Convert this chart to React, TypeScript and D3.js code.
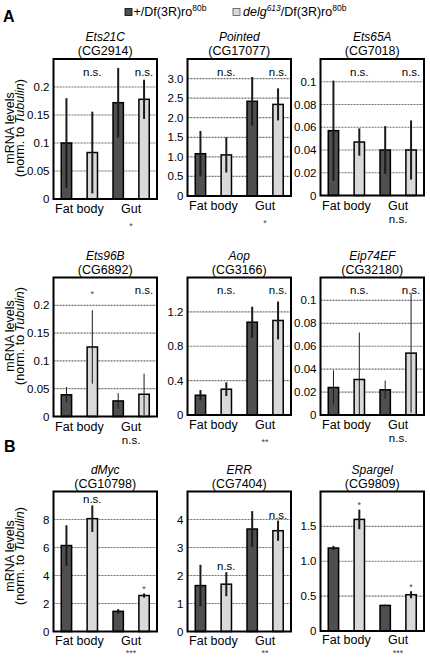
import React from 'react';
import * as d3 from 'd3';

const genes = ['Ets21C', 'Pointed', 'Ets65A', 'Ets96B', 'Aop', 'Eip74EF', 'dMyc', 'ERR', 'Spargel'];
const cgIds = ['CG2914', 'CG17077', 'CG7018', 'CG6892', 'CG3166', 'CG32180', 'CG10798', 'CG7404', 'CG9809'];
const groups = ['Fat body', 'Gut'];
const barKeys = ['fb-ctrl', 'fb-delg', 'gut-ctrl', 'gut-delg'];

const means = [
  [0.100, 0.083, 0.172, 0.178],
  [1.08, 1.05, 2.42, 2.34],
  [0.057, 0.047, 0.040, 0.040],
  [0.039, 0.125, 0.028, 0.040],
  [0.23, 0.30, 1.08, 1.10],
  [0.024, 0.031, 0.022, 0.054],
  [6.14, 8.06, 1.44, 2.57],
  [1.64, 1.69, 3.66, 3.60],
  [1.19, 1.60, 0.367, 0.52],
];
const errs = [
  [0.080, 0.073, 0.062, 0.035],
  [0.58, 0.45, 0.62, 0.41],
  [0.044, 0.012, 0.021, 0.026],
  [0.014, 0.066, 0.014, 0.037],
  [0.06, 0.08, 0.18, 0.22],
  [0.015, 0.041, 0.008, 0.052],
  [1.45, 0.95, 0.16, 0.15],
  [0.74, 0.43, 0.64, 0.36],
  [0.03, 0.14, 0.01, 0.05],
];
const yMax = [0.25, 3.5, 0.12, 0.25, 1.6, 0.12, 10, 5, 2];
const tickValues = [
  [0, 0.05, 0.1, 0.15, 0.2],
  [0, 0.5, 1, 1.5, 2, 2.5, 3],
  [0, 0.02, 0.04, 0.06, 0.08, 0.1],
  [0, 0.05, 0.1, 0.15, 0.2],
  [0, 0.4, 0.8, 1.2],
  [0, 0.02, 0.04, 0.06, 0.08, 0.1],
  [0, 2, 4, 6, 8],
  [0, 1, 2, 3, 4],
  [0, 0.5, 1, 1.5],
];
const tickLabels = [
  ['0', '0.05', '0.1', '0.15', '0.2'],
  ['0', '0.5', '1.0', '1.5', '2.0', '2.5', '3.0'],
  ['0', '0.02', '0.04', '0.06', '0.08', '0.1'],
  ['0', '0.05', '0.1', '0.15', '0.2'],
  ['0', '0.4', '0.8', '1.2'],
  ['0', '0.02', '0.04', '0.06', '0.08', '0.1'],
  ['0', '2', '4', '6', '8'],
  ['0', '1', '2', '3', '4'],
  ['0', '0.5', '1.0', '1.5'],
];
// significance above the mutant bar of each tissue [fat body, gut]
const sigTop = [
  ['n.s.', 'n.s.'], ['n.s.', 'n.s.'], ['n.s.', 'n.s.'],
  ['*', 'n.s.'], ['n.s.', 'n.s.'], ['n.s.', 'n.s.'],
  ['n.s.', '*'], ['n.s.', 'n.s.'], ['*', '*'],
];
// significance below the Gut label
const sigGut = ['*', '*', 'n.s.', 'n.s.', '**', 'n.s.', '***', '**', '***'];

// ---- layout ----
const COL_X = [53.5, 187.5, 320.5];
const PW = 103.5;
const ROW_TOP = [59, 277.5, 491.5];
const BOTTOMS = [199, 196, 195.5, 416.5, 415, 415, 631.5, 631.5, 631];
const YLABEL_CY = [128, 336, 556];
const LABEL_DY = [14, 14, 13];
const SIG_DY = [27, 27, 22];
const THIN_ERR = [3, 5];
const FILLS = ['#4f4f4f', '#d9d9d9'];
const FONT = "'Liberation Sans Narrow', 'Arial Narrow', 'Liberation Sans', Arial, sans-serif";
const FONT_W = "'Liberation Sans', Arial, sans-serif";

function Panel({ i }: { i: number }) {
  const row = Math.floor(i / 3);
  const col = i % 3;
  const left = COL_X[col];
  const top = ROW_TOP[row];
  const bottom = BOTTOMS[i];
  const y = d3.scaleLinear().domain([0, yMax[i]]).range([bottom, top]);
  const x = d3.scaleBand().domain(barKeys).range([left, left + PW]).paddingInner(0.6).paddingOuter(0.3);
  const bw = x.bandwidth();
  const cx = (k: number) => (x(barKeys[k]) as number) + bw / 2;
  const midX = left + PW / 2;
  const errW = THIN_ERR.includes(i) ? 1 : 2;
  const gutStar = sigGut[i].startsWith('*');

  return (
    <g>
      {/* title */}
      <text x={midX} y={top - 18} textAnchor="middle" fontFamily={FONT_W} fontStyle="italic" fontSize={12}>{genes[i]}</text>
      <text x={midX} y={top - 4} textAnchor="middle" fontFamily={FONT} fontSize={12.5}>({cgIds[i]})</text>
      {/* grid */}
      {tickValues[i].filter((t) => t > 0).map((t) => (
        <line key={t} x1={left} x2={left + PW} y1={y(t)} y2={y(t)} stroke="#6e6e6e" strokeWidth={1.2} strokeDasharray="2,1" />
      ))}
      {/* tick labels */}
      {tickValues[i].map((t, k) => (
        <text key={t} x={left - 4} y={y(t) + 4} textAnchor="end" fontFamily={FONT} fontSize={11.5}>{tickLabels[i][k]}</text>
      ))}
      {/* bars */}
      {means[i].map((m, k) => (
        <rect key={k} x={x(barKeys[k])} y={y(m)} width={bw} height={bottom - y(m)} fill={FILLS[k % 2]} stroke="#000" strokeWidth={1.5} />
      ))}
      {/* error bars */}
      {means[i].map((m, k) => (
        <line key={k} x1={cx(k)} x2={cx(k)} y1={y(m + errs[i][k])} y2={y(Math.max(0, m - errs[i][k]))} stroke="#1a1a1a" strokeWidth={errW} />
      ))}
      {/* frame */}
      <rect x={left} y={top} width={PW} height={bottom - top} fill="none" stroke="#000" strokeWidth={2} />
      {/* significance marks above */}
      {sigTop[i].map((s, g) => {
        const k = g * 2 + 1;
        const star = s.startsWith('*');
        let yy: number;
        if (row < 2) yy = top + 16.5 + (star ? 3 : 0);
        else yy = y(means[i][k] + errs[i][k]) - (star ? 1.5 : 2);
        return (
          <text key={g} x={cx(k)} y={yy} textAnchor="middle" fontFamily={FONT} fontSize={star ? 9 : 11.5} fill={star ? '#444' : '#000'}>{s}</text>
        );
      })}
      {/* group labels */}
      {groups.map((gname, g) => (
        <text key={gname} x={(cx(g * 2) + cx(g * 2 + 1)) / 2} y={bottom + LABEL_DY[row]} textAnchor="middle" fontFamily={FONT} fontSize={12.5}>{gname}</text>
      ))}
      <text x={(cx(2) + cx(3)) / 2} y={bottom + SIG_DY[row] + (gutStar ? 2.5 : 0)} textAnchor="middle" fontFamily={FONT}
        fontSize={gutStar ? 9 : 11.5} fill={gutStar ? '#444' : '#000'}>{sigGut[i]}</text>
      {/* y axis title */}
      {col === 0 && (
        <g transform={`translate(0,${YLABEL_CY[row]}) rotate(-90)`}>
          <text x={0} y={14} textAnchor="middle" fontFamily={FONT} fontSize={12.5}>mRNA levels</text>
          <text x={0} y={24} textAnchor="middle" fontFamily={FONT} fontSize={12.5}>(norm. to <tspan fontStyle="italic">Tubulin</tspan>)</text>
        </g>
      )}
    </g>
  );
}

export default function App() {
  return (
    <svg width={430} height={658} style={{ position: 'absolute', left: 0, top: 0, background: '#fff' }}>
      <rect width={430} height={658} fill="#fff" />
      <text x={3} y={22} fontFamily={FONT_W} fontWeight="bold" fontSize={16}>A</text>
      <text x={4} y={452} fontFamily={FONT_W} fontWeight="bold" fontSize={16}>B</text>
      {/* legend */}
      <rect x={125} y={8.5} width={7} height={7} fill={FILLS[0]} stroke="#000" strokeWidth={0.8} />
      <text x={133.5} y={16} fontFamily={FONT} fontSize={12.5}>+/Df(3R)ro<tspan fontSize={8.5} dy={-5}>80b</tspan></text>
      <rect x={233} y={8.5} width={7} height={7} fill={FILLS[1]} stroke="#555" strokeWidth={0.8} />
      <text x={243} y={16} fontFamily={FONT} fontSize={12.5}>
        <tspan fontStyle="italic">delg</tspan>
        <tspan fontStyle="italic" fontSize={8.5} dy={-5}>613</tspan>
        <tspan dy={5}>/Df(3R)ro</tspan>
        <tspan fontSize={8.5} dy={-5}>80b</tspan>
      </text>
      {genes.map((_, i) => <Panel key={i} i={i} />)}
    </svg>
  );
}
